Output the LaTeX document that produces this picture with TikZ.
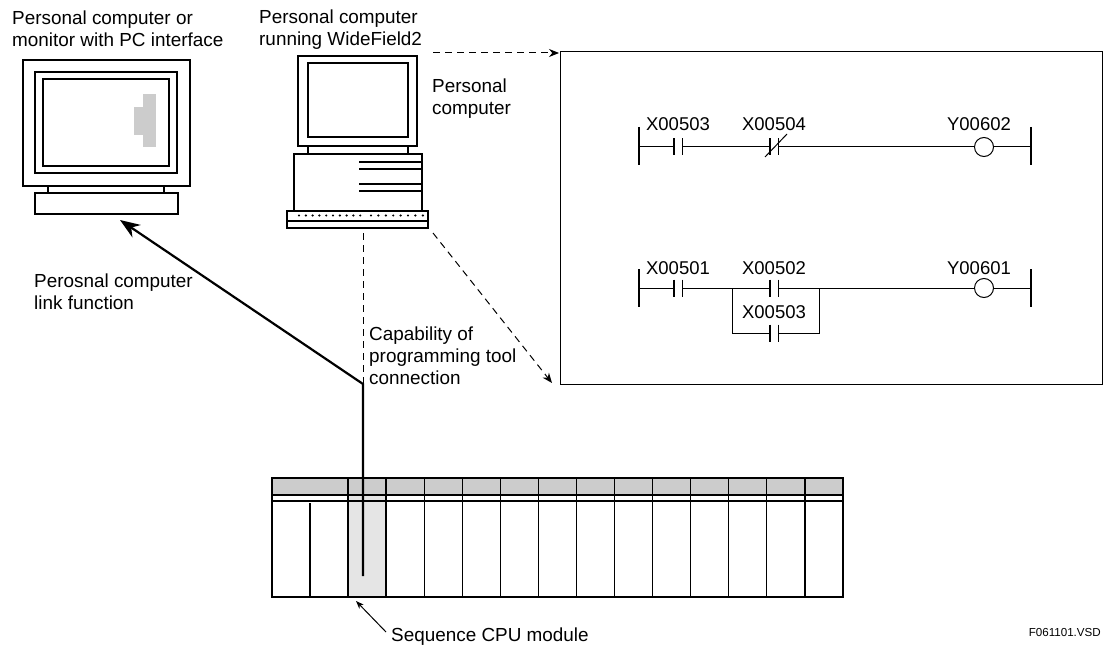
\documentclass[tikz,border=0pt]{standalone}
\usepackage{fontspec}
\setmainfont{Liberation Sans}
\usetikzlibrary{arrows.meta}

\tikzset{
  lbl/.style={anchor=west, align=left, inner sep=0pt, font=\fontsize{18.9}{22}\selectfont},
  tag/.style={inner sep=0pt, font=\fontsize{18.5}{22}\selectfont},
  box/.style={line width=1.2pt},
  wire/.style={line width=1pt},
  rail/.style={line width=2pt},
  contactbar/.style={line width=1.6pt},
  dashline/.style={line width=1pt, dash pattern=on 7pt off 5pt},
  linkline/.style={line width=2.2pt},
}

\begin{document}
\begin{tikzpicture}[x=1pt,y=-1pt,>={Stealth[length=10pt,width=8pt]}]
\useasboundingbox (0,0) rectangle (1103,650);

% monitor with PC interface
\draw[box] (23,60) rectangle (190,186);
\draw[box] (35,72) rectangle (177,173);
\draw[box] (43,79) rectangle (169,166);
\fill[gray!40] (143,94) rectangle (156,147);
\fill[gray!40] (134,107) rectangle (143,135);
\draw[box] (48,186) rectangle (164,193);
\draw[box] (35,193) rectangle (178,214);
\coordinate (monfoot) at (120,220);

% personal computer with WideField2
\draw[box] (298,56) rectangle (417,146);
\draw[box] (308,63) rectangle (408,137);
\draw[box] (308,146) rectangle (408,154);
\draw[box] (294,154) rectangle (422,211);
\foreach \y in {162,169,184,191}
  \draw[box] (359,\y) -- (422,\y);
\draw[box] (287,211) rectangle (428,228);
\draw[box] (287,221) -- (428,221);
\foreach \i in {0,...,9}
  \fill (299+6.8*\i,215.5) circle (1.2);
\foreach \i in {0,...,7}
  \fill (371+7.4*\i,215.5) circle (1.2);
\coordinate (wfout) at (433,53);
\coordinate (pcjack) at (363,233);
\coordinate (pcfoot) at (433,233);

% ladder program window
\node[draw, box, anchor=north west, inner sep=0pt,
      minimum width=542pt, minimum height=333pt] (ladder) at (560,51) {};
\coordinate (ladin) at (559,53);
\coordinate (ladlow) at (552,383);

% rung 1
\draw[rail] (639,127) -- (639,165);
\draw[rail] (1031,127) -- (1031,165);
\draw[wire] (639,147) -- (674,147) (682.5,147) -- (770,147)
  (778.5,147) -- (974.5,147) (993.5,147) -- (1031,147);
\draw[wire] (984,147) circle (9.5);
\draw[wire] (765,157) -- (787,134);
% rung 2
\draw[rail] (639,269) -- (639,307);
\draw[rail] (1031,269) -- (1031,307);
\draw[wire] (639,288) -- (674,288) (682.5,288) -- (770,288)
  (778.5,288) -- (974.5,288) (993.5,288) -- (1031,288);
\draw[wire] (732,288) -- (732,333) -- (770,333)
  (778.5,333) -- (819,333) -- (819,288);
\draw[wire] (984,288) circle (9.5);
% contacts
\foreach \x/\y in {674/147,770/147,674/288,770/288,770/333}
  \draw[contactbar] (\x,\y-8.5) -- (\x,\y+8.5) (\x+8.5,\y-8.5) -- (\x+8.5,\y+8.5);

\node[tag] (xa) at (678,124) {X00503};
\node[tag] (xb) at (774,124) {X00504};
\node[tag] (ya) at (979,124) {Y00602};
\node[tag] (xc) at (678,268) {X00501};
\node[tag] (xd) at (774,268) {X00502};
\node[tag] (xe) at (774,312) {X00503};
\node[tag] (yb) at (979,268) {Y00601};

% CPU rack
\fill[gray!40] (272,478) rectangle (843,495);
\fill[gray!20] (348,495) rectangle (386,597);
\draw[box] (272,478) rectangle (843,597);
\draw[box] (272,495) -- (843,495);
\draw[box] (272,501) -- (843,501);
\foreach \i in {0,...,12}
  \draw[box] ({348+38.08*\i},478) -- ++(0,119);
\draw[box] (310,503) -- (310,597);
\coordinate (cpujack) at (363,576);
\coordinate (tooltap) at (363,384);
\coordinate (cpuslot) at (356,601);
\coordinate (cputail) at (386,632);

% labels
\node[lbl] (monlbl) at (12,29) {Personal computer or\\monitor with PC interface};
\node[lbl] (wflbl) at (259,29.5) {Personal computer\\running WideField2};
\node[lbl] (pclbl) at (432,98.5) {Personal\\computer};
\node[lbl] (linklbl) at (34,292) {Perosnal computer\\link function};
\node[lbl] (toollbl) at (369,356) {Capability of\\programming tool\\connection};
\node[lbl] (cpulbl) at (391,637) {Sequence CPU module};
\node[anchor=east, inner sep=0pt, font=\fontsize{11.6}{14}\selectfont] (drawno) at (1101,633) {F061101.VSD};

% connections
\draw[dashline,->] (wfout) -- (ladin);
\draw[dashline,->] (pcfoot) -- (ladlow);
\draw[dashline] (pcjack) -- (tooltap);
\draw[linkline,-{Stealth[length=20pt,width=15pt]}] (cpujack) -- (tooltap) -- (monfoot);
\draw[wire,-{Stealth[length=8pt,width=6pt]}] (cputail) -- (cpuslot);
\end{tikzpicture}
\end{document}
